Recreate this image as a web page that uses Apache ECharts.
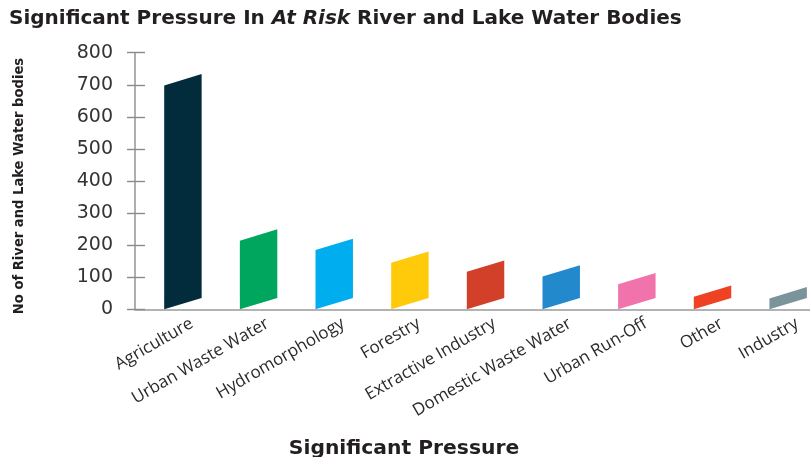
<!DOCTYPE html>
<html>
<head>
<meta charset="utf-8">
<script src="https://cdn.jsdelivr.net/npm/echarts@6/dist/echarts.min.js"></script>
<style>html,body{margin:0;padding:0;background:#fff;}#c{width:810px;height:457px;}</style>
</head>
<body>
<div id="c"></div>
<script>
const categories = ['Agriculture','Urban Waste Water','Hydromorphology','Forestry','Extractive Industry','Domestic Waste Water','Urban Run-Off','Other','Industry'];
const values = [698, 214, 185, 145, 117, 102, 78, 39, 34];
const barColors = ['#022c3c','#00a65d','#00aeef','#ffca0a','#d2402a','#2389cd','#f173ac','#ef4123','#7b939a'];
const yTicks = [0, 100, 200, 300, 400, 500, 600, 700, 800];

const chart = echarts.init(document.getElementById('c'), null, {renderer: 'canvas'});
const axisColor = '#9a9a9a';
const gridTop = 52.7, gridBottom = 457 - 309.3;

const option = {
  animation: false,
  title: [
    {
      text: '{b|Significant Pressure In }{i|At Risk}{b| River and Lake Water Bodies}',
      left: 9, top: 9, padding: 0,
      textStyle: {
        rich: {
          b: {fontFamily: 'DejaVu Sans', fontWeight: 'bold', fontSize: 20, color: '#231f20'},
          i: {fontFamily: 'DejaVu Sans', fontWeight: 'bold', fontStyle: 'italic', fontSize: 20, color: '#231f20'}
        }
      }
    },
    {
      text: 'Significant Pressure',
      left: 404, top: 439, textAlign: 'center', padding: 0,
      textStyle: {fontFamily: 'DejaVu Sans', fontWeight: 'bold', fontSize: 20.3, color: '#231f20'}
    }
  ],
  grid: [
    {left: 145.1, right: -16, top: gridTop, bottom: gridBottom, outerBoundsMode: 'none', containLabel: false},
    {left: 135, right: 0, top: gridTop, bottom: gridBottom, outerBoundsMode: 'none', containLabel: false},
    {left: 154, right: -25, top: gridTop, bottom: gridBottom, outerBoundsMode: 'none', containLabel: false}
  ],
  xAxis: [
    {type: 'category', gridIndex: 0, data: categories, boundaryGap: true,
     axisLine: {show: false}, axisTick: {show: false}, axisLabel: {show: false}, splitLine: {show: false}},
    {type: 'value', gridIndex: 1, min: 0, max: 1, show: true,
     axisLine: {show: true, lineStyle: {color: axisColor, width: 1.6}},
     axisTick: {show: false}, axisLabel: {show: false}, splitLine: {show: false}},
    {type: 'category', gridIndex: 2, data: categories, boundaryGap: true,
     axisLine: {show: false}, axisTick: {show: false}, splitLine: {show: false},
     axisLabel: {show: true, interval: 0, rotate: 30, margin: 13,
       fontFamily: 'Open Sans', fontSize: 17, color: '#2b2b2b'}}
  ],
  yAxis: [
    {type: 'value', gridIndex: 0, min: 0, max: 800, interval: 100, show: false},
    {type: 'value', gridIndex: 1, position: 'left', min: 0, max: 800, interval: 100,
     axisLine: {show: true, lineStyle: {color: axisColor, width: 1.6}},
     axisTick: {show: true, inside: false, length: 8, lineStyle: {color: '#8a8a8a', width: 1.4}},
     splitLine: {show: false},
     axisLabel: {margin: 22, fontFamily: 'DejaVu Sans', fontSize: 19, color: '#333',
       formatter: function (v) { return yTicks.indexOf(v) >= 0 ? String(v) : ''; }},
     name: 'No of River and Lake Water bodies',
     nameLocation: 'middle', nameGap: 108,
     nameTextStyle: {fontFamily: '"Liberation Sans Narrow", "DejaVu Sans Condensed"', fontWeight: 'bold', fontSize: 14.6, color: '#231f20', padding: [0, 10, 0, 0]}},
    {type: 'value', gridIndex: 1, position: 'left', min: 0, max: 800, interval: 100,
     axisLine: {show: false}, axisLabel: {show: false}, splitLine: {show: false},
     axisTick: {show: true, inside: true, length: 10, lineStyle: {color: '#8a8a8a', width: 1.4}}},
    {type: 'value', gridIndex: 2, min: 0, max: 800, show: false}
  ],
  series: [{
    type: 'custom',
    xAxisIndex: 0, yAxisIndex: 0,
    data: values.map(function (v, i) { return [i, v]; }),
    encode: {x: 0, y: 1},
    renderItem: function (params, api) {
      const i = api.value(0), v = api.value(1);
      const base = api.coord([i, 0]);
      const top = api.coord([i, v]);
      const w = api.size([1, 0])[0] * 0.495;
      const skew = 11.3;
      const x0 = base[0] - w / 2, x1 = base[0] + w / 2;
      return {
        type: 'polygon',
        shape: {points: [[x0, base[1]], [x1, base[1] - skew], [x1, top[1] - skew], [x0, top[1]]]},
        style: {fill: barColors[i]}
      };
    }
  }]
};
chart.setOption(option);
</script>
</body>
</html>
